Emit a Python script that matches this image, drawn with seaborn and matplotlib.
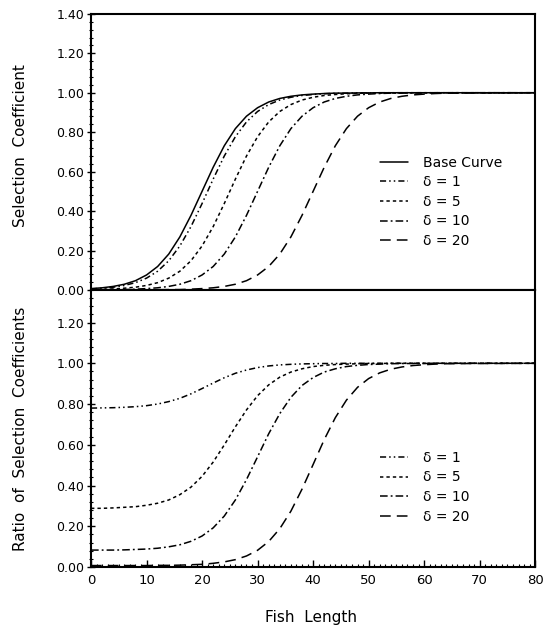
import numpy as np
import pandas as pd
import matplotlib
matplotlib.use('Agg')
import matplotlib.pyplot as plt
import seaborn as sns
from matplotlib.ticker import MultipleLocator

# values
fish_length = [0, 2, 4, 6, 8, 10, 12, 14, 16, 18, 20, 22, 24, 26, 28, 30, 32, 34,
               36, 38, 40, 42, 44, 46, 48, 50, 52, 54, 56, 58, 60, 62, 64, 66, 68, 70, 80]

base_curve = [0.007, 0.011, 0.018, 0.029, 0.047, 0.076, 0.119, 0.182, 0.269, 0.378,
              0.500, 0.622, 0.731, 0.818, 0.881, 0.924, 0.953, 0.971, 0.982, 0.989,
              0.993, 0.996, 0.998, 0.998, 0.999, 0.999, 1.0, 1.0, 1.0, 1.0,
              1.0, 1.0, 1.0, 1.0, 1.0, 1.0, 1.0]
sel_d1 = [0.005, 0.009, 0.014, 0.023, 0.037, 0.060, 0.095, 0.148, 0.223, 0.321,
          0.438, 0.562, 0.679, 0.777, 0.852, 0.905, 0.940, 0.963, 0.977, 0.986,
          0.991, 0.995, 0.997, 0.998, 0.999, 0.999, 1.0, 1.0, 1.0, 1.0,
          1.0, 1.0, 1.0, 1.0, 1.0, 1.0, 1.0]
sel_d5 = [0.002, 0.003, 0.005, 0.009, 0.014, 0.023, 0.037, 0.060, 0.095, 0.148,
          0.223, 0.321, 0.438, 0.562, 0.679, 0.777, 0.852, 0.905, 0.940, 0.963,
          0.977, 0.986, 0.991, 0.995, 0.997, 0.998, 0.999, 0.999, 1.0, 1.0,
          1.0, 1.0, 1.0, 1.0, 1.0, 1.0, 1.0]
sel_d10 = [0.001, 0.001, 0.002, 0.002, 0.004, 0.007, 0.011, 0.018, 0.029, 0.047,
           0.076, 0.119, 0.182, 0.269, 0.378, 0.500, 0.622, 0.731, 0.818, 0.881,
           0.924, 0.953, 0.971, 0.982, 0.989, 0.993, 0.996, 0.998, 0.998, 0.999,
           0.999, 1.0, 1.0, 1.0, 1.0, 1.0, 1.0]
sel_d20 = [0.000, 0.000, 0.000, 0.000, 0.000, 0.001, 0.001, 0.002, 0.002, 0.004,
           0.007, 0.011, 0.018, 0.029, 0.047, 0.076, 0.119, 0.182, 0.269, 0.378,
           0.500, 0.622, 0.731, 0.818, 0.881, 0.924, 0.953, 0.971, 0.982, 0.989,
           0.993, 0.996, 0.998, 0.998, 0.999, 0.999, 1.0]

ratio_d1 = [0.780, 0.781, 0.782, 0.784, 0.787, 0.792, 0.800, 0.812, 0.828, 0.850,
            0.876, 0.903, 0.929, 0.951, 0.967, 0.979, 0.987, 0.992, 0.995, 0.997,
            0.998, 0.999, 0.999, 1.0, 1.0, 1.0, 1.0, 1.0, 1.0, 1.0,
            1.0, 1.0, 1.0, 1.0, 1.0, 1.0, 1.0]
ratio_d5 = [0.288, 0.288, 0.290, 0.293, 0.296, 0.303, 0.313, 0.329, 0.355, 0.392,
            0.445, 0.515, 0.599, 0.688, 0.771, 0.841, 0.894, 0.932, 0.957, 0.973,
            0.984, 0.990, 0.994, 0.996, 0.998, 0.999, 0.999, 1.0, 1.0, 1.0,
            1.0, 1.0, 1.0, 1.0, 1.0, 1.0, 1.0]
ratio_d10 = [0.083, 0.083, 0.083, 0.084, 0.086, 0.088, 0.092, 0.099, 0.109, 0.126,
             0.152, 0.192, 0.250, 0.329, 0.429, 0.541, 0.654, 0.753, 0.833, 0.891,
             0.930, 0.957, 0.973, 0.984, 0.990, 0.994, 0.996, 0.998, 0.999, 0.999,
             0.999, 1.0, 1.0, 1.0, 1.0, 1.0, 1.0]
ratio_d20 = [0.007, 0.007, 0.007, 0.007, 0.007, 0.007, 0.008, 0.008, 0.009, 0.011,
             0.013, 0.018, 0.025, 0.036, 0.054, 0.082, 0.125, 0.188, 0.274, 0.382,
             0.503, 0.625, 0.733, 0.819, 0.882, 0.925, 0.953, 0.971, 0.982, 0.989,
             0.993, 0.996, 0.998, 0.998, 0.999, 0.999, 1.0]

labels = ['Base Curve', 'δ = 1', 'δ = 5', 'δ = 10', 'δ = 20']
styles = ['-', (0, (4, 2, 1, 2, 1, 2)), (0, (2.2, 2)), (0, (5, 2, 1.2, 2)), (0, (7, 4))]

sns.set_style('ticks')
plt.rcParams['font.family'] = ['DejaVu Sans']
plt.rcParams['text.color'] = 'black'
plt.rcParams['axes.labelcolor'] = 'black'
plt.rcParams['xtick.color'] = 'black'
plt.rcParams['ytick.color'] = 'black'

fig = plt.figure(figsize=(5.45, 6.29), dpi=100)
ax1 = fig.add_axes([0.167, 0.539, 0.815, 0.439])
ax2 = fig.add_axes([0.167, 0.0986, 0.815, 0.4404])

top_series = [base_curve, sel_d1, sel_d5, sel_d10, sel_d20]
for vals, lab, ls in zip(top_series, labels, styles):
    sns.lineplot(x=fish_length, y=vals, ax=ax1, color='black', lw=1.1,
                 linestyle=ls, label=lab)

bottom_series = [ratio_d1, ratio_d5, ratio_d10, ratio_d20]
for vals, lab, ls in zip(bottom_series, labels[1:], styles[1:]):
    sns.lineplot(x=fish_length, y=vals, ax=ax2, color='black', lw=1.1,
                 linestyle=ls, label=lab)

for ax in (ax1, ax2):
    ax.set_xlim(0, 80)
    for s in ax.spines.values():
        s.set_visible(True)
        s.set_linewidth(1.5)
        s.set_color('black')
    ax.yaxis.set_major_locator(MultipleLocator(0.2))
    ax.yaxis.set_minor_locator(MultipleLocator(0.04))
    ax.yaxis.set_major_formatter(matplotlib.ticker.FormatStrFormatter('%.2f'))
    ax.tick_params(axis='y', which='major', direction='inout', length=6, width=1,
                   labelsize=9, pad=2, colors='black')
    ax.tick_params(axis='y', which='minor', direction='inout', length=3, width=0.8,
                   colors='black')
    ax.set_ylabel('')
    ax.set_xlabel('')

ax1.set_ylim(0, 1.4)
ax1.set_xticks([])
ax1.tick_params(axis='x', which='both', bottom=False, labelbottom=False)

ax2.set_ylim(0, 1.36)
ax2.set_yticks([0, 0.2, 0.4, 0.6, 0.8, 1.0, 1.2])
ax2.xaxis.set_major_locator(MultipleLocator(10))
ax2.xaxis.set_minor_locator(MultipleLocator(1))
ax2.tick_params(axis='x', which='major', direction='in', length=5, width=1,
                labelsize=9.5, pad=5, colors='black')
ax2.tick_params(axis='x', which='minor', direction='in', length=2.5, width=0.8,
                colors='black')

leg_kw = dict(frameon=False, loc='upper left', fontsize=10, handlelength=2.0,
              handletextpad=1.1, labelspacing=0.4, borderpad=0, borderaxespad=0)
ax1.legend(bbox_to_anchor=(0.651, 0.486), **leg_kw)
ax2.legend(bbox_to_anchor=(0.651, 0.419), **leg_kw)

fig.text(0.037, 0.769, 'Selection  Coefficient', rotation=90, ha='center',
         va='center', fontsize=11, color='black')
fig.text(0.037, 0.319, 'Ratio  of  Selection  Coefficients', rotation=90,
         ha='center', va='center', fontsize=11, color='black')
fig.text(0.571, 0.019, 'Fish  Length', ha='center', va='center', fontsize=11,
         color='black')

fig.savefig('out.png', dpi=100)
